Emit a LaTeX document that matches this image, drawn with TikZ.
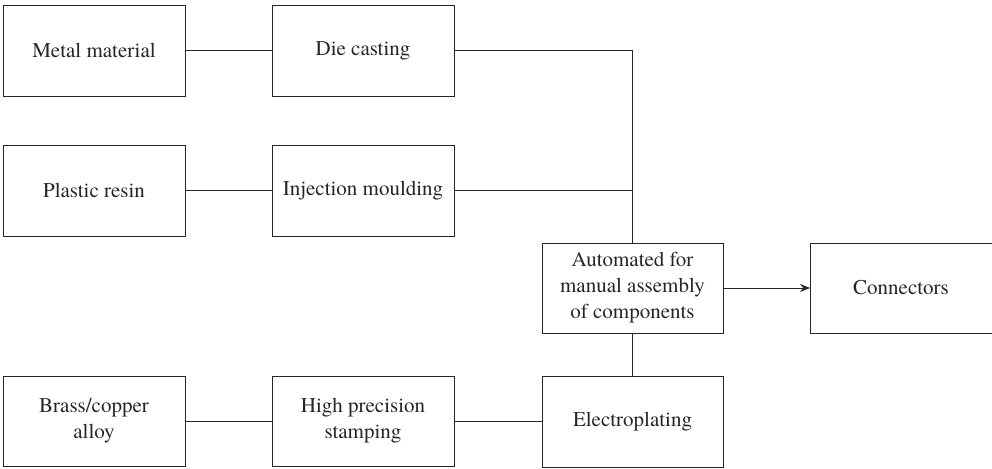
\documentclass[tikz,border=0pt]{standalone}
\usepackage{fontspec}
\newfontfamily\tnr{texgyretermes-regular.otf}
\usetikzlibrary{arrows.meta}
\begin{document}
\begin{tikzpicture}[x=1pt,y=-1pt,
  box/.style={draw=black!85,line width=0.9pt,minimum width=182pt,minimum height=91pt,inner sep=0pt,outer sep=0pt,align=center,font=\tnr\fontsize{21}{26}\selectfont,text=black!85},
  conn/.style={draw=black!85,line width=0.9pt}]
\useasboundingbox (0,0) rectangle (992,468);
\node[box] (metal) at (94,50.5) {Metal material};
\node[box] (die) at (363,50.5) {Die casting};
\node[box] (plastic) at (94,190.5) {Plastic resin};
\node[box] (inj) at (363,190.5) {Injection moulding};
\node[box,minimum width=181pt,minimum height=90pt] (auto) at (632.5,288) {Automated for\\manual assembly\\of components};
\node[box,minimum height=90pt] (cn) at (901,288) {Connectors};
\node[box,minimum height=90pt] (brass) at (94,421) {Brass/copper\\alloy};
\node[box,minimum height=90pt] (high) at (363,421) {High precision\\stamping};
\node[box,minimum width=181pt] (elec) at (632.5,421.5) {Electroplating};
\draw[conn] (metal) -- (die);
\draw[conn] (plastic) -- (inj);
\draw[conn] (die.east) -| (auto.north);
\draw[conn] (inj.east) -- (inj.east -| auto.north);
\draw[conn] (brass) -- (high);
\draw[conn] (high.east) -- (high.east -| elec.west);
\draw[conn] (auto) -- (elec);
\draw[conn,-{Stealth[length=10pt,width=8pt]}] (auto) -- (cn);
\end{tikzpicture}
\end{document}
